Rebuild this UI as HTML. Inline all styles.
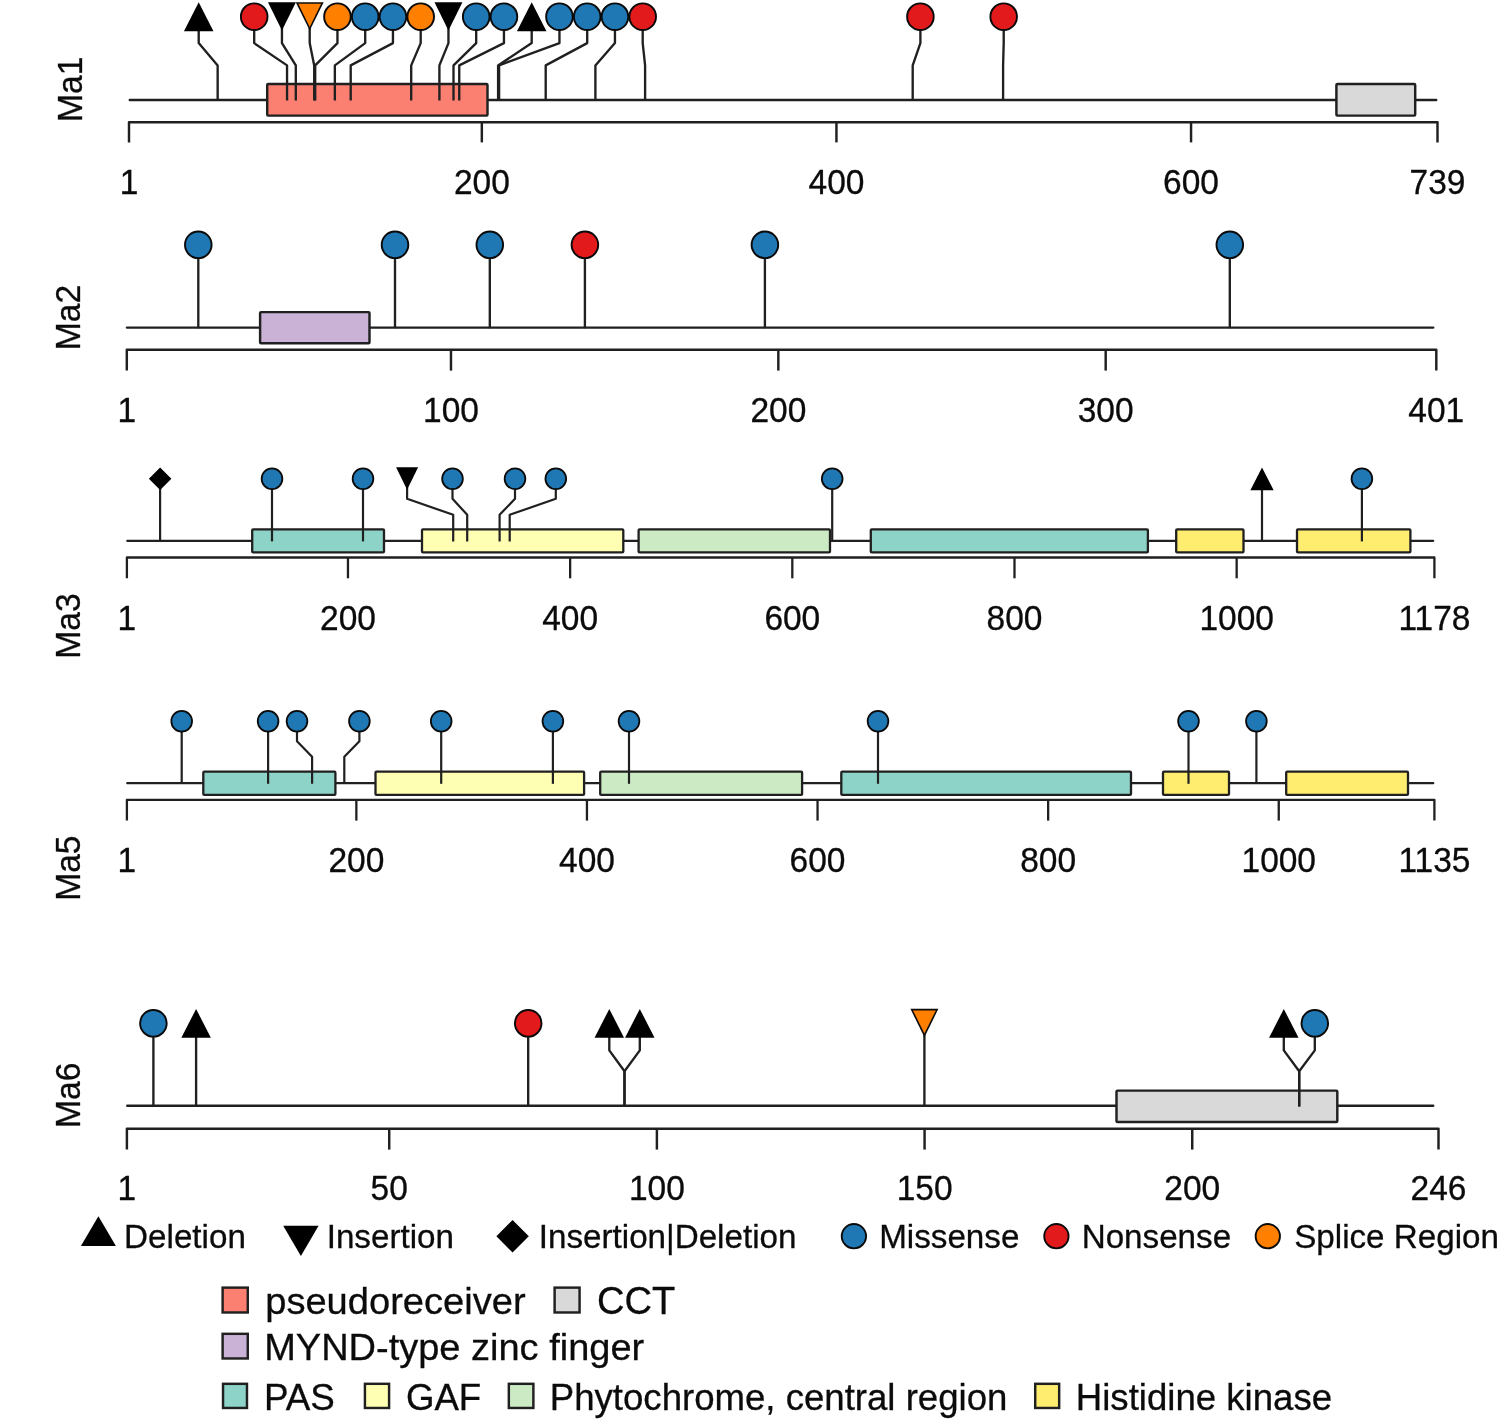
<!DOCTYPE html>
<html lang="en">
<head>
<meta charset="utf-8">
<title>Lollipop plot</title>
<style>
html,body{margin:0;padding:0;background:#fff;}
body{width:1499px;height:1421px;overflow:hidden;}
svg{display:block;font-family:'Liberation Sans', sans-serif;}
</style>
</head>
<body>
<svg width="1499" height="1421" viewBox="0 0 1499 1421">
<rect x="0" y="0" width="1499" height="1421" fill="#ffffff"/>
<g stroke="#202020" stroke-width="2.45" fill="none" stroke-linecap="round">
<line x1="129.8" y1="99.9" x2="1436.2" y2="99.9"/>
</g>
<rect x="267.2" y="84" width="220.3" height="31.6" rx="1" fill="#FB8072" stroke="#202020" stroke-width="2.45"/>
<rect x="1336.4" y="84" width="78.8" height="31.6" rx="1" fill="#D9D9D9" stroke="#202020" stroke-width="2.45"/>
<g stroke="#202020" stroke-width="2.35" fill="none" stroke-linejoin="round">
<polyline points="198.7,27.95 198.7,43.1 217.65,65.4 217.65,100.5"/>
<polyline points="254.2,27.95 254.2,43.1 287.05,65.4 287.05,100.5"/>
<polyline points="281.95,27.95 281.95,43.1 295.8,65.4 295.8,100.5"/>
<polyline points="309.7,27.95 309.7,43.1 314.2,65.4 314.2,100.5"/>
<polyline points="337.45,27.95 337.45,43.1 315.2,65.4 315.2,100.5"/>
<polyline points="365.2,27.95 365.2,43.1 334.85,65.4 334.85,100.5"/>
<polyline points="392.95,27.95 392.95,43.1 350.7,65.4 350.7,100.5"/>
<polyline points="420.7,27.95 420.7,43.1 411.2,65.4 411.2,100.5"/>
<polyline points="448.45,27.95 448.45,43.1 439.4,65.4 439.4,100.5"/>
<polyline points="476.2,27.95 476.2,43.1 453.5,65.4 453.5,100.5"/>
<polyline points="503.95,27.95 503.95,43.1 459.25,65.4 459.25,100.5"/>
<polyline points="531.7,27.95 531.7,43.1 498.1,65.4 498.1,100.5"/>
<polyline points="559.45,27.95 559.45,43.1 499.1,65.4 499.1,100.5"/>
<polyline points="587.2,27.95 587.2,43.1 545.7,65.4 545.7,100.5"/>
<polyline points="614.95,27.95 614.95,43.1 595.4,65.4 595.4,100.5"/>
<polyline points="642.7,27.95 642.7,43.1 645.1,65.4 645.1,100.5"/>
<polyline points="920.4,27.95 920.4,43.1 912.7,65.4 912.7,100.5"/>
<polyline points="1003.7,27.95 1003.7,43.1 1003.1,65.4 1003.1,100.5"/>
</g>
<polygon points="198.7,2.35 213.45,31.15 183.95,31.15" fill="#000"/>
<circle cx="254.2" cy="16.7" r="13.3" fill="#E31A1C" stroke="#0a0a0a" stroke-width="1.9"/>
<polygon points="267.99,2.25 295.91,2.25 281.95,30.55" fill="#000"/>
<polygon points="295.74,2.25 323.66,2.25 309.7,30.55" fill="#0a0a0a"/>
<polygon points="298.31,3.85 321.09,3.85 309.7,26.93" fill="#FF7F00"/>
<circle cx="337.45" cy="16.7" r="13.3" fill="#FF7F00" stroke="#0a0a0a" stroke-width="1.9"/>
<circle cx="365.2" cy="16.7" r="13.3" fill="#1F78B4" stroke="#0a0a0a" stroke-width="1.9"/>
<circle cx="392.95" cy="16.7" r="13.3" fill="#1F78B4" stroke="#0a0a0a" stroke-width="1.9"/>
<circle cx="420.7" cy="16.7" r="13.3" fill="#FF7F00" stroke="#0a0a0a" stroke-width="1.9"/>
<polygon points="434.49,2.25 462.41,2.25 448.45,30.55" fill="#000"/>
<circle cx="476.2" cy="16.7" r="13.3" fill="#1F78B4" stroke="#0a0a0a" stroke-width="1.9"/>
<circle cx="503.95" cy="16.7" r="13.3" fill="#1F78B4" stroke="#0a0a0a" stroke-width="1.9"/>
<polygon points="531.7,2.35 546.45,31.15 516.95,31.15" fill="#000"/>
<circle cx="559.45" cy="16.7" r="13.3" fill="#1F78B4" stroke="#0a0a0a" stroke-width="1.9"/>
<circle cx="587.2" cy="16.7" r="13.3" fill="#1F78B4" stroke="#0a0a0a" stroke-width="1.9"/>
<circle cx="614.95" cy="16.7" r="13.3" fill="#1F78B4" stroke="#0a0a0a" stroke-width="1.9"/>
<circle cx="642.7" cy="16.7" r="13.3" fill="#E31A1C" stroke="#0a0a0a" stroke-width="1.9"/>
<circle cx="920.4" cy="16.7" r="13.3" fill="#E31A1C" stroke="#0a0a0a" stroke-width="1.9"/>
<circle cx="1003.7" cy="16.7" r="13.3" fill="#E31A1C" stroke="#0a0a0a" stroke-width="1.9"/>
<g stroke="#202020" stroke-width="2.45" fill="none" stroke-linejoin="round">
<polyline points="129,142.4 129,122.3 1437.5,122.3 1437.5,142.4"/>
<line x1="481.83" y1="122.3" x2="481.83" y2="142.4"/>
<line x1="836.44" y1="122.3" x2="836.44" y2="142.4"/>
<line x1="1191.05" y1="122.3" x2="1191.05" y2="142.4"/>
</g>
<text transform="translate(129,193.8) scale(1,1.05)" font-size="33.5" text-anchor="middle" fill="#0b0b0b" stroke="#0b0b0b" stroke-width="0.3">1</text>
<text transform="translate(481.83,193.8) scale(1,1.05)" font-size="33.5" text-anchor="middle" fill="#0b0b0b" stroke="#0b0b0b" stroke-width="0.3">200</text>
<text transform="translate(836.44,193.8) scale(1,1.05)" font-size="33.5" text-anchor="middle" fill="#0b0b0b" stroke="#0b0b0b" stroke-width="0.3">400</text>
<text transform="translate(1191.05,193.8) scale(1,1.05)" font-size="33.5" text-anchor="middle" fill="#0b0b0b" stroke="#0b0b0b" stroke-width="0.3">600</text>
<text transform="translate(1437.5,193.8) scale(1,1.05)" font-size="33.5" text-anchor="middle" fill="#0b0b0b" stroke="#0b0b0b" stroke-width="0.3">739</text>
<text transform="translate(82,122) rotate(-90) scale(1,1.05)" font-size="33.6" text-anchor="start" fill="#0b0b0b" stroke="#0b0b0b" stroke-width="0.3">Ma1</text>
<g stroke="#202020" stroke-width="2.45" fill="none" stroke-linecap="round">
<line x1="127" y1="327.6" x2="1433.2" y2="327.6"/>
</g>
<rect x="260.1" y="312.1" width="109.4" height="31.1" rx="1" fill="#CAB2D6" stroke="#202020" stroke-width="2.45"/>
<g stroke="#202020" stroke-width="2.35" fill="none" stroke-linejoin="round">
<polyline points="198.3,256.05 198.3,280 198.3,300 198.3,328.2"/>
<polyline points="395,256.05 395,280 395,300 395,328.2"/>
<polyline points="489.8,256.05 489.8,280 489.8,300 489.8,328.2"/>
<polyline points="584.9,256.05 584.9,280 584.9,300 584.9,328.2"/>
<polyline points="764.9,256.05 764.9,280 764.9,300 764.9,328.2"/>
<polyline points="1229.8,256.05 1229.8,280 1229.8,300 1229.8,328.2"/>
</g>
<circle cx="198.3" cy="244.8" r="13.3" fill="#1F78B4" stroke="#0a0a0a" stroke-width="1.9"/>
<circle cx="395" cy="244.8" r="13.3" fill="#1F78B4" stroke="#0a0a0a" stroke-width="1.9"/>
<circle cx="489.8" cy="244.8" r="13.3" fill="#1F78B4" stroke="#0a0a0a" stroke-width="1.9"/>
<circle cx="584.9" cy="244.8" r="13.3" fill="#E31A1C" stroke="#0a0a0a" stroke-width="1.9"/>
<circle cx="764.9" cy="244.8" r="13.3" fill="#1F78B4" stroke="#0a0a0a" stroke-width="1.9"/>
<circle cx="1229.8" cy="244.8" r="13.3" fill="#1F78B4" stroke="#0a0a0a" stroke-width="1.9"/>
<g stroke="#202020" stroke-width="2.45" fill="none" stroke-linejoin="round">
<polyline points="126.8,370.6 126.8,349.7 1436.3,349.7 1436.3,370.6"/>
<line x1="450.98" y1="349.7" x2="450.98" y2="370.6"/>
<line x1="778.33" y1="349.7" x2="778.33" y2="370.6"/>
<line x1="1105.68" y1="349.7" x2="1105.68" y2="370.6"/>
</g>
<text transform="translate(126.9,422.3) scale(1,1.05)" font-size="33.5" text-anchor="middle" fill="#0b0b0b" stroke="#0b0b0b" stroke-width="0.3">1</text>
<text transform="translate(450.98,422.3) scale(1,1.05)" font-size="33.5" text-anchor="middle" fill="#0b0b0b" stroke="#0b0b0b" stroke-width="0.3">100</text>
<text transform="translate(778.33,422.3) scale(1,1.05)" font-size="33.5" text-anchor="middle" fill="#0b0b0b" stroke="#0b0b0b" stroke-width="0.3">200</text>
<text transform="translate(1105.68,422.3) scale(1,1.05)" font-size="33.5" text-anchor="middle" fill="#0b0b0b" stroke="#0b0b0b" stroke-width="0.3">300</text>
<text transform="translate(1436.3,422.3) scale(1,1.05)" font-size="33.5" text-anchor="middle" fill="#0b0b0b" stroke="#0b0b0b" stroke-width="0.3">401</text>
<text transform="translate(79.7,350.2) rotate(-90) scale(1,1.05)" font-size="33.6" text-anchor="start" fill="#0b0b0b" stroke="#0b0b0b" stroke-width="0.3">Ma2</text>
<g stroke="#202020" stroke-width="2.3" fill="none" stroke-linecap="round">
<line x1="127.3" y1="540.8" x2="1433.2" y2="540.8"/>
</g>
<rect x="252.2" y="529.3" width="131.8" height="23.1" rx="1" fill="#8DD3C7" stroke="#202020" stroke-width="2.3"/>
<rect x="422" y="529.3" width="201.3" height="23.1" rx="1" fill="#FFFFB3" stroke="#202020" stroke-width="2.3"/>
<rect x="638.6" y="529.3" width="191.4" height="23.1" rx="1" fill="#CCEBC5" stroke="#202020" stroke-width="2.3"/>
<rect x="870.8" y="529.3" width="277.1" height="23.1" rx="1" fill="#8DD3C7" stroke="#202020" stroke-width="2.3"/>
<rect x="1176.2" y="529.3" width="67.3" height="23.1" rx="1" fill="#FFED6F" stroke="#202020" stroke-width="2.3"/>
<rect x="1297" y="529.3" width="113.4" height="23.1" rx="1" fill="#FFED6F" stroke="#202020" stroke-width="2.3"/>
<g stroke="#202020" stroke-width="2.1999999999999997" fill="none" stroke-linejoin="round">
<polyline points="160.1,487.05 160.1,498.8 160.1,514.8 160.1,541.4"/>
<polyline points="272,487.05 272,498.8 272,514.8 272,541.4"/>
<polyline points="363,487.05 363,498.8 363,514.8 363,541.4"/>
<polyline points="407.1,487.05 407.1,498.8 453.2,514.8 453.2,541.4"/>
<polyline points="452.5,487.05 452.5,498.8 467.2,514.8 467.2,541.4"/>
<polyline points="515,487.05 515,498.8 499.6,514.8 499.6,541.4"/>
<polyline points="555.8,487.05 555.8,498.8 509.7,514.8 509.7,541.4"/>
<polyline points="832.2,487.05 832.2,498.8 832.2,514.8 832.2,541.4"/>
<polyline points="1262,487.05 1262,498.8 1262,514.8 1262,541.4"/>
<polyline points="1361.9,487.05 1361.9,498.8 1361.9,514.8 1361.9,541.4"/>
</g>
<polygon points="160.1,467.55 171.35,478.8 160.1,490.05 148.85,478.8" fill="#000"/>
<circle cx="272" cy="478.8" r="10.35" fill="#1F78B4" stroke="#0a0a0a" stroke-width="1.8"/>
<circle cx="363" cy="478.8" r="10.35" fill="#1F78B4" stroke="#0a0a0a" stroke-width="1.8"/>
<polygon points="396.08,467.35 418.12,467.35 407.1,489.65" fill="#000"/>
<circle cx="452.5" cy="478.8" r="10.35" fill="#1F78B4" stroke="#0a0a0a" stroke-width="1.8"/>
<circle cx="515" cy="478.8" r="10.35" fill="#1F78B4" stroke="#0a0a0a" stroke-width="1.8"/>
<circle cx="555.8" cy="478.8" r="10.35" fill="#1F78B4" stroke="#0a0a0a" stroke-width="1.8"/>
<circle cx="832.2" cy="478.8" r="10.35" fill="#1F78B4" stroke="#0a0a0a" stroke-width="1.8"/>
<polygon points="1262,467.45 1273.64,490.25 1250.36,490.25" fill="#000"/>
<circle cx="1361.9" cy="478.8" r="10.35" fill="#1F78B4" stroke="#0a0a0a" stroke-width="1.8"/>
<g stroke="#202020" stroke-width="2.3" fill="none" stroke-linejoin="round">
<polyline points="126.9,578.3 126.9,557.5 1434.4,557.5 1434.4,578.3"/>
<line x1="347.96" y1="557.5" x2="347.96" y2="578.3"/>
<line x1="570.14" y1="557.5" x2="570.14" y2="578.3"/>
<line x1="792.31" y1="557.5" x2="792.31" y2="578.3"/>
<line x1="1014.49" y1="557.5" x2="1014.49" y2="578.3"/>
<line x1="1236.66" y1="557.5" x2="1236.66" y2="578.3"/>
</g>
<text transform="translate(126.9,629.7) scale(1,1.05)" font-size="33.5" text-anchor="middle" fill="#0b0b0b" stroke="#0b0b0b" stroke-width="0.3">1</text>
<text transform="translate(347.96,629.7) scale(1,1.05)" font-size="33.5" text-anchor="middle" fill="#0b0b0b" stroke="#0b0b0b" stroke-width="0.3">200</text>
<text transform="translate(570.14,629.7) scale(1,1.05)" font-size="33.5" text-anchor="middle" fill="#0b0b0b" stroke="#0b0b0b" stroke-width="0.3">400</text>
<text transform="translate(792.31,629.7) scale(1,1.05)" font-size="33.5" text-anchor="middle" fill="#0b0b0b" stroke="#0b0b0b" stroke-width="0.3">600</text>
<text transform="translate(1014.49,629.7) scale(1,1.05)" font-size="33.5" text-anchor="middle" fill="#0b0b0b" stroke="#0b0b0b" stroke-width="0.3">800</text>
<text transform="translate(1236.66,629.7) scale(1,1.05)" font-size="33.5" text-anchor="middle" fill="#0b0b0b" stroke="#0b0b0b" stroke-width="0.3">1000</text>
<text transform="translate(1434.4,629.7) scale(1,1.05)" font-size="33.5" text-anchor="middle" fill="#0b0b0b" stroke="#0b0b0b" stroke-width="0.3">1178</text>
<text transform="translate(79.7,658.7) rotate(-90) scale(1,1.05)" font-size="33.6" text-anchor="start" fill="#0b0b0b" stroke="#0b0b0b" stroke-width="0.3">Ma3</text>
<g stroke="#202020" stroke-width="2.3" fill="none" stroke-linecap="round">
<line x1="127.3" y1="783.2" x2="1433.2" y2="783.2"/>
</g>
<rect x="203.3" y="771.7" width="132.1" height="23.2" rx="1" fill="#8DD3C7" stroke="#202020" stroke-width="2.3"/>
<rect x="375.5" y="771.7" width="208.6" height="23.2" rx="1" fill="#FFFFB3" stroke="#202020" stroke-width="2.3"/>
<rect x="600.2" y="771.7" width="201.9" height="23.2" rx="1" fill="#CCEBC5" stroke="#202020" stroke-width="2.3"/>
<rect x="841.3" y="771.7" width="289.7" height="23.2" rx="1" fill="#8DD3C7" stroke="#202020" stroke-width="2.3"/>
<rect x="1163" y="771.7" width="66" height="23.2" rx="1" fill="#FFED6F" stroke="#202020" stroke-width="2.3"/>
<rect x="1286.2" y="771.7" width="121.8" height="23.2" rx="1" fill="#FFED6F" stroke="#202020" stroke-width="2.3"/>
<g stroke="#202020" stroke-width="2.1999999999999997" fill="none" stroke-linejoin="round">
<polyline points="181.7,729.45 181.7,741.2 181.7,756.8 181.7,783.8"/>
<polyline points="268.1,729.45 268.1,741.2 268.1,756.8 268.1,783.8"/>
<polyline points="297,729.45 297,741.2 312.1,756.8 312.1,783.8"/>
<polyline points="359.4,729.45 359.4,741.2 344.3,756.8 344.3,783.8"/>
<polyline points="441.2,729.45 441.2,741.2 441.2,756.8 441.2,783.8"/>
<polyline points="552.9,729.45 552.9,741.2 552.9,756.8 552.9,783.8"/>
<polyline points="629,729.45 629,741.2 629,756.8 629,783.8"/>
<polyline points="878,729.45 878,741.2 878,756.8 878,783.8"/>
<polyline points="1188.5,729.45 1188.5,741.2 1188.5,756.8 1188.5,783.8"/>
<polyline points="1256.4,729.45 1256.4,741.2 1256.4,756.8 1256.4,783.8"/>
</g>
<circle cx="181.7" cy="721.2" r="10.35" fill="#1F78B4" stroke="#0a0a0a" stroke-width="1.8"/>
<circle cx="268.1" cy="721.2" r="10.35" fill="#1F78B4" stroke="#0a0a0a" stroke-width="1.8"/>
<circle cx="297" cy="721.2" r="10.35" fill="#1F78B4" stroke="#0a0a0a" stroke-width="1.8"/>
<circle cx="359.4" cy="721.2" r="10.35" fill="#1F78B4" stroke="#0a0a0a" stroke-width="1.8"/>
<circle cx="441.2" cy="721.2" r="10.35" fill="#1F78B4" stroke="#0a0a0a" stroke-width="1.8"/>
<circle cx="552.9" cy="721.2" r="10.35" fill="#1F78B4" stroke="#0a0a0a" stroke-width="1.8"/>
<circle cx="629" cy="721.2" r="10.35" fill="#1F78B4" stroke="#0a0a0a" stroke-width="1.8"/>
<circle cx="878" cy="721.2" r="10.35" fill="#1F78B4" stroke="#0a0a0a" stroke-width="1.8"/>
<circle cx="1188.5" cy="721.2" r="10.35" fill="#1F78B4" stroke="#0a0a0a" stroke-width="1.8"/>
<circle cx="1256.4" cy="721.2" r="10.35" fill="#1F78B4" stroke="#0a0a0a" stroke-width="1.8"/>
<g stroke="#202020" stroke-width="2.3" fill="none" stroke-linejoin="round">
<polyline points="126.9,820.6 126.9,799.8 1434.4,799.8 1434.4,820.6"/>
<line x1="356.35" y1="799.8" x2="356.35" y2="820.6"/>
<line x1="586.95" y1="799.8" x2="586.95" y2="820.6"/>
<line x1="817.55" y1="799.8" x2="817.55" y2="820.6"/>
<line x1="1048.15" y1="799.8" x2="1048.15" y2="820.6"/>
<line x1="1278.75" y1="799.8" x2="1278.75" y2="820.6"/>
</g>
<text transform="translate(126.9,871.7) scale(1,1.05)" font-size="33.5" text-anchor="middle" fill="#0b0b0b" stroke="#0b0b0b" stroke-width="0.3">1</text>
<text transform="translate(356.35,871.7) scale(1,1.05)" font-size="33.5" text-anchor="middle" fill="#0b0b0b" stroke="#0b0b0b" stroke-width="0.3">200</text>
<text transform="translate(586.95,871.7) scale(1,1.05)" font-size="33.5" text-anchor="middle" fill="#0b0b0b" stroke="#0b0b0b" stroke-width="0.3">400</text>
<text transform="translate(817.55,871.7) scale(1,1.05)" font-size="33.5" text-anchor="middle" fill="#0b0b0b" stroke="#0b0b0b" stroke-width="0.3">600</text>
<text transform="translate(1048.15,871.7) scale(1,1.05)" font-size="33.5" text-anchor="middle" fill="#0b0b0b" stroke="#0b0b0b" stroke-width="0.3">800</text>
<text transform="translate(1278.75,871.7) scale(1,1.05)" font-size="33.5" text-anchor="middle" fill="#0b0b0b" stroke="#0b0b0b" stroke-width="0.3">1000</text>
<text transform="translate(1434.4,871.7) scale(1,1.05)" font-size="33.5" text-anchor="middle" fill="#0b0b0b" stroke="#0b0b0b" stroke-width="0.3">1135</text>
<text transform="translate(79.7,900.8) rotate(-90) scale(1,1.05)" font-size="33.6" text-anchor="start" fill="#0b0b0b" stroke="#0b0b0b" stroke-width="0.3">Ma5</text>
<g stroke="#202020" stroke-width="2.45" fill="none" stroke-linecap="round">
<line x1="127.3" y1="1105.8" x2="1433.2" y2="1105.8"/>
</g>
<rect x="1116.5" y="1090.6" width="220.8" height="31.4" rx="1" fill="#D9D9D9" stroke="#202020" stroke-width="2.45"/>
<g stroke="#202020" stroke-width="2.35" fill="none" stroke-linejoin="round">
<polyline points="153.4,1034.55 153.4,1050.4 153.4,1071.3 153.4,1106.4"/>
<polyline points="196.1,1034.55 196.1,1050.4 196.1,1071.3 196.1,1106.4"/>
<polyline points="528.2,1034.55 528.2,1050.4 528.2,1071.3 528.2,1106.4"/>
<polyline points="609.3,1034.55 609.3,1050.4 624.5,1071.3 624.5,1106.4"/>
<polyline points="639.8,1034.55 639.8,1050.4 624.5,1071.3 624.5,1106.4"/>
<polyline points="924.4,1034.55 924.4,1050.4 924.4,1071.3 924.4,1106.4"/>
<polyline points="1283.8,1034.55 1283.8,1050.4 1299.2,1071.3 1299.2,1106.4"/>
<polyline points="1314.8,1034.55 1314.8,1050.4 1299.2,1071.3 1299.2,1106.4"/>
</g>
<circle cx="153.4" cy="1023.3" r="13.3" fill="#1F78B4" stroke="#0a0a0a" stroke-width="1.9"/>
<polygon points="196.1,1008.95 210.85,1037.75 181.35,1037.75" fill="#000"/>
<circle cx="528.2" cy="1023.3" r="13.3" fill="#E31A1C" stroke="#0a0a0a" stroke-width="1.9"/>
<polygon points="609.3,1008.95 624.05,1037.75 594.55,1037.75" fill="#000"/>
<polygon points="639.8,1008.95 654.55,1037.75 625.05,1037.75" fill="#000"/>
<polygon points="910.43,1008.85 938.37,1008.85 924.4,1037.15" fill="#0a0a0a"/>
<polygon points="913.01,1010.45 935.79,1010.45 924.4,1033.53" fill="#FF7F00"/>
<polygon points="1283.8,1008.95 1298.55,1037.75 1269.05,1037.75" fill="#000"/>
<circle cx="1314.8" cy="1023.3" r="13.3" fill="#1F78B4" stroke="#0a0a0a" stroke-width="1.9"/>
<g stroke="#202020" stroke-width="2.45" fill="none" stroke-linejoin="round">
<polyline points="126.9,1149.6 126.9,1128.7 1438.5,1128.7 1438.5,1149.6"/>
<line x1="389.22" y1="1128.7" x2="389.22" y2="1149.6"/>
<line x1="656.89" y1="1128.7" x2="656.89" y2="1149.6"/>
<line x1="924.57" y1="1128.7" x2="924.57" y2="1149.6"/>
<line x1="1192.24" y1="1128.7" x2="1192.24" y2="1149.6"/>
</g>
<text transform="translate(126.9,1200.3) scale(1,1.05)" font-size="33.5" text-anchor="middle" fill="#0b0b0b" stroke="#0b0b0b" stroke-width="0.3">1</text>
<text transform="translate(389.22,1200.3) scale(1,1.05)" font-size="33.5" text-anchor="middle" fill="#0b0b0b" stroke="#0b0b0b" stroke-width="0.3">50</text>
<text transform="translate(656.89,1200.3) scale(1,1.05)" font-size="33.5" text-anchor="middle" fill="#0b0b0b" stroke="#0b0b0b" stroke-width="0.3">100</text>
<text transform="translate(924.57,1200.3) scale(1,1.05)" font-size="33.5" text-anchor="middle" fill="#0b0b0b" stroke="#0b0b0b" stroke-width="0.3">150</text>
<text transform="translate(1192.24,1200.3) scale(1,1.05)" font-size="33.5" text-anchor="middle" fill="#0b0b0b" stroke="#0b0b0b" stroke-width="0.3">200</text>
<text transform="translate(1438.5,1200.3) scale(1,1.05)" font-size="33.5" text-anchor="middle" fill="#0b0b0b" stroke="#0b0b0b" stroke-width="0.3">246</text>
<text transform="translate(79.7,1128) rotate(-90) scale(1,1.05)" font-size="33.6" text-anchor="start" fill="#0b0b0b" stroke="#0b0b0b" stroke-width="0.3">Ma6</text>
<polygon points="98.4,1216.2 115.9,1245.9 80.9,1245.9" fill="#000"/>
<polygon points="283.2,1225.8 318.6,1225.8 300.9,1255.9" fill="#000"/>
<polygon points="512.6,1220 528.8,1236.25 512.6,1252.5 496.4,1236.25" fill="#000"/>
<circle cx="853.9" cy="1236.2" r="12.15" fill="#1F78B4" stroke="#0a0a0a" stroke-width="1.9"/>
<circle cx="1056.4" cy="1236.2" r="12.15" fill="#E31A1C" stroke="#0a0a0a" stroke-width="1.9"/>
<circle cx="1267.8" cy="1236.2" r="12.15" fill="#FF7F00" stroke="#0a0a0a" stroke-width="1.9"/>
<text transform="translate(124.1,1248.4) scale(1,1.02)" font-size="33.2" text-anchor="start" fill="#0b0b0b" stroke="#0b0b0b" stroke-width="0.3">Deletion</text>
<text transform="translate(326.7,1248.4) scale(1,1.02)" font-size="33.2" text-anchor="start" fill="#0b0b0b" stroke="#0b0b0b" stroke-width="0.3">Insertion</text>
<text transform="translate(538.8,1248.4) scale(1,1.02)" font-size="33.2" text-anchor="start" fill="#0b0b0b" stroke="#0b0b0b" stroke-width="0.3">Insertion|Deletion</text>
<text transform="translate(879.2,1248.4) scale(1,1.02)" font-size="33.2" text-anchor="start" fill="#0b0b0b" stroke="#0b0b0b" stroke-width="0.3">Missense</text>
<text transform="translate(1081.7,1248.4) scale(1,1.02)" font-size="33.2" text-anchor="start" fill="#0b0b0b" stroke="#0b0b0b" stroke-width="0.3">Nonsense</text>
<text transform="translate(1294.2,1248.4) scale(1,1.02)" font-size="33.2" text-anchor="start" fill="#0b0b0b" stroke="#0b0b0b" stroke-width="0.3">Splice Region</text>
<rect x="222.62" y="1287.62" width="25.15" height="24.85" fill="#FB8072" stroke="#202020" stroke-width="2.45"/>
<rect x="554.62" y="1287.62" width="24.95" height="24.85" fill="#D9D9D9" stroke="#202020" stroke-width="2.45"/>
<rect x="222.62" y="1333.82" width="25.15" height="24.65" fill="#CAB2D6" stroke="#202020" stroke-width="2.45"/>
<rect x="223.03" y="1383.82" width="23.95" height="24.15" fill="#8DD3C7" stroke="#202020" stroke-width="2.45"/>
<rect x="364.93" y="1383.82" width="24.15" height="24.15" fill="#FFFFB3" stroke="#202020" stroke-width="2.45"/>
<rect x="508.83" y="1383.82" width="24.55" height="24.15" fill="#CCEBC5" stroke="#202020" stroke-width="2.45"/>
<rect x="1035.22" y="1383.82" width="23.95" height="24.15" fill="#FFED6F" stroke="#202020" stroke-width="2.45"/>
<text transform="translate(265.2,1314.3) scale(1,0.96)" font-size="38.1" text-anchor="start" fill="#0b0b0b" stroke="#0b0b0b" stroke-width="0.3">pseudoreceiver</text>
<text transform="translate(597,1314.3) scale(1,1.03)" font-size="38.1" text-anchor="start" fill="#0b0b0b" stroke="#0b0b0b" stroke-width="0.3">CCT</text>
<text transform="translate(264.2,1360) scale(1,0.98)" font-size="38.0" text-anchor="start" fill="#0b0b0b" stroke="#0b0b0b" stroke-width="0.3">MYND-type zinc finger</text>
<text transform="translate(264,1409.6) scale(1,1.02)" font-size="36.8" text-anchor="start" fill="#0b0b0b" stroke="#0b0b0b" stroke-width="0.3">PAS</text>
<text transform="translate(406,1409.6) scale(1,1.02)" font-size="36.6" text-anchor="start" fill="#0b0b0b" stroke="#0b0b0b" stroke-width="0.3">GAF</text>
<text transform="translate(549.8,1409.6) scale(1,0.985)" font-size="36.6" text-anchor="start" fill="#0b0b0b" stroke="#0b0b0b" stroke-width="0.3">Phytochrome, central region</text>
<text transform="translate(1075.8,1409.6) scale(1,0.985)" font-size="36.6" text-anchor="start" fill="#0b0b0b" stroke="#0b0b0b" stroke-width="0.3">Histidine kinase</text>
</svg>
</body>
</html>
